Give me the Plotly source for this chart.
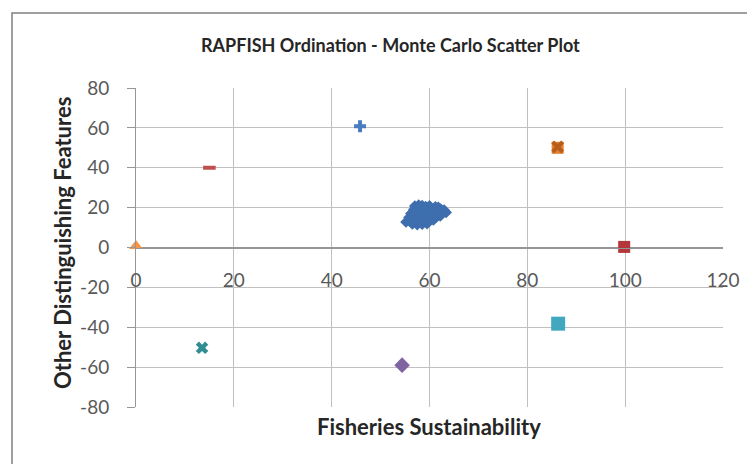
import plotly.graph_objects as go

# ---- data ----
cluster_x = [57.0, 57.8, 58.5, 59.2, 60.0, 61.2, 61.8,
             56.8, 57.5, 58.3, 59.0, 59.8, 60.6, 61.5, 62.3, 63.0,
             56.2, 57.0, 57.8, 58.6, 59.4, 60.2, 61.0, 61.8, 62.6, 63.4,
             55.8, 56.6, 57.4, 58.2, 59.0, 59.8, 60.6, 61.4, 62.2,
             55.2, 56.0, 56.8, 57.6, 58.4, 59.2, 60.0, 60.8,
             56.5, 57.5, 58.5, 59.5]
cluster_y = [20.8, 21.3, 21.0, 20.5, 20.9, 20.4, 20.2,
             19.0, 19.2, 18.8, 19.1, 18.9, 19.0, 18.8, 19.3, 18.7,
             17.0, 17.2, 16.8, 17.1, 16.9, 17.2, 17.0, 16.8, 17.1, 17.6,
             15.0, 15.2, 14.8, 15.1, 14.9, 15.0, 15.2, 15.3, 15.8,
             12.8, 13.2, 13.0, 12.7, 13.1, 12.9, 13.2, 13.8,
             11.8, 11.5, 11.7, 12.0]

ref_names = ["Good up", "Bad up", "Bad", "Good", "Down bad", "Down good", "Half", "Down half", "Up"]
ref_x = [45.8, 15.0, 0.0, 99.8, 13.5, 86.2, 86.3, 54.4, 86.2]
ref_y = [60.8, 40.0, 0.8, 0.3, -50.3, 50.0, -38.2, -59.0, 50.5]
ref_symbols = ["cross", "line-ew-open", "triangle-up", "square", "x", "square", "square", "diamond", "x-thin-open"]
ref_colors = ["#4a7cc0", "#c0504d", "#f79646", "#b2363c", "#2f8d93", "#e08030", "#42a8c0", "#8064a2", "#b85d1a"]
ref_sizes = [10, 9, 12, 12, 11, 12, 14, 12, 10]

x_ticks = [0, 20, 40, 60, 80, 100, 120]
y_ticks = [-80, -60, -40, -20, 0, 20, 40, 60, 80]

title_text = "RAPFISH Ordination - Monte Carlo Scatter Plot"
x_title = "Fisheries Sustainability"
y_title = "Other Distinguishing Features"

fig = go.Figure()

fig.add_trace(go.Scatter(
    x=cluster_x, y=cluster_y, mode="markers", name="Monte Carlo",
    marker=dict(symbol="diamond", size=9, color="#3e6eae"),
    showlegend=False, cliponaxis=False))

for n, xx, yy, s, c, sz in zip(ref_names, ref_x, ref_y, ref_symbols, ref_colors, ref_sizes):
    if s.endswith("-open"):
        mk = dict(symbol=s, size=sz, color=c, line=dict(color=c, width=4))
    else:
        mk = dict(symbol=s, size=sz, color=c, line=dict(width=0))
    fig.add_trace(go.Scatter(x=[xx], y=[yy], mode="markers", name=n,
                             marker=mk, showlegend=False, cliponaxis=False))

OFF = 8  # page body margin
W, H = 755 - OFF, 464 - OFF
L, T = 136 - OFF, 88 - OFF
R = W - (723 - OFF)
B = H - (407 - OFF)
pw = W - L - R
ph = H - T - B

def px2paper_x(px):
    return (px - OFF - L) / pw

def py2paper_y(py):
    return (H - B - (py - OFF)) / ph

fig.update_layout(
    width=W, height=H,
    margin=dict(l=L, r=R, t=T, b=B, autoexpand=False),
    paper_bgcolor="white", plot_bgcolor="white",
    font=dict(family="Lato", color="#595959"),
    xaxis=dict(range=[0, 120], tickvals=x_ticks, ticktext=[str(v) for v in x_ticks],
               showgrid=True, gridcolor="#c0c0c0", gridwidth=1,
               zeroline=False, showline=True, linecolor="#969696", linewidth=1,
               anchor="free", position=0.5,
               ticks="outside", ticklen=0, tickcolor="#969696",
               ticklabelstandoff=16,
               tickfont=dict(size=19, color="#595959", family="Lato")),
    yaxis=dict(range=[-80, 80], tickvals=y_ticks, ticktext=[str(v) for v in y_ticks],
               showgrid=True, gridcolor="#c0c0c0", gridwidth=1,
               zeroline=True, zerolinecolor="#969696", zerolinewidth=1,
               showline=True, linecolor="#969696", linewidth=1,
               ticks="outside", ticklen=8, tickcolor="#969696",
               ticklabelstandoff=14,
               tickfont=dict(size=19, color="#595959", family="Lato")),
    shapes=[dict(type="rect", xref="paper", yref="paper",
                 x0=px2paper_x(12), x1=px2paper_x(780),
                 y0=py2paper_y(490), y1=py2paper_y(13),
                 line=dict(color="#808080", width=1.5), fillcolor="rgba(0,0,0,0)",
                 layer="below")],
    annotations=[
        dict(text="<b>" + title_text + "</b>", xref="paper", yref="paper",
             x=px2paper_x(390), y=py2paper_y(45), xanchor="center", yanchor="middle",
             showarrow=False, font=dict(size=18, color="#262626", family="Lato")),
        dict(text="<b>" + x_title + "</b>", xref="paper", yref="paper",
             x=px2paper_x(429), y=py2paper_y(427), xanchor="center", yanchor="middle",
             showarrow=False, font=dict(size=22, color="#262626", family="Lato")),
        dict(text="<b>" + y_title + "</b>", xref="paper", yref="paper",
             x=px2paper_x(62), y=py2paper_y(243), xanchor="center", yanchor="middle",
             textangle=-90,
             showarrow=False, font=dict(size=22, color="#262626", family="Lato")),
    ],
)

fig.write_html("out.html")
